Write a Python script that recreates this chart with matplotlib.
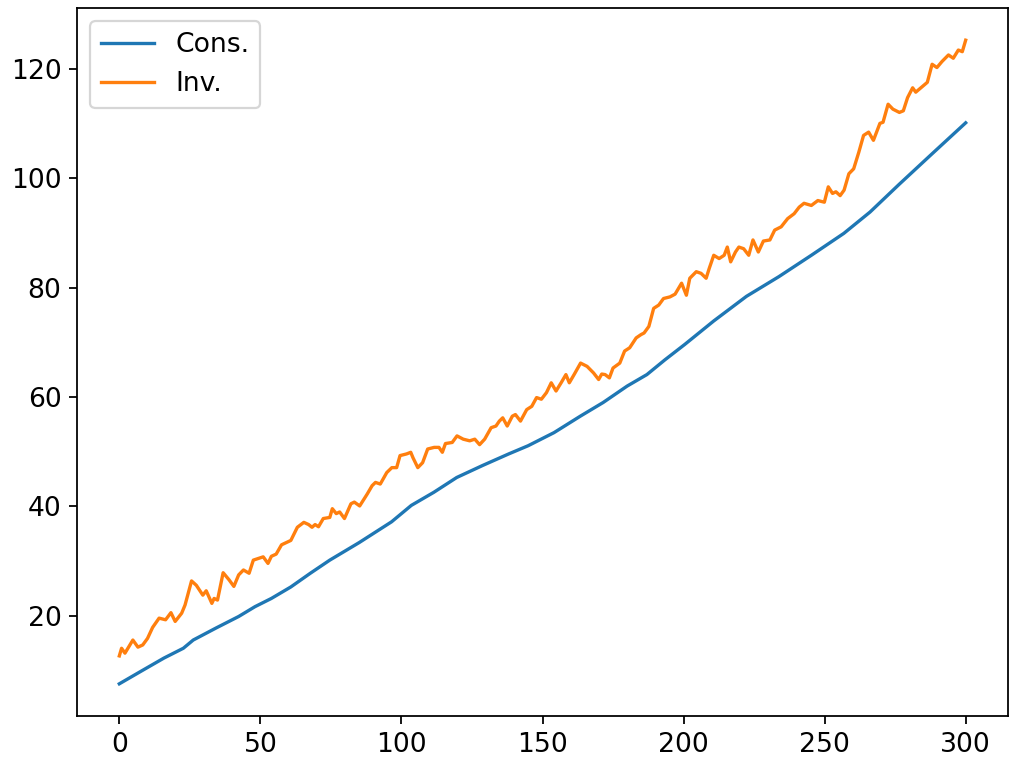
import matplotlib
matplotlib.use("Agg")
import matplotlib.pyplot as plt

# -----------------------------------------------------------------------------
# Data
# -----------------------------------------------------------------------------
cons_x = [0.0, 7.7, 15.8, 22.7, 26.2, 34.3, 42.3, 48.1, 53.9, 60.8,
          67.7, 74.6, 85.0, 96.5, 103.5, 111.5, 119.6, 128.8, 138.0, 144.9,
          154.1, 163.4, 171.5, 180.0, 187.0, 193.4, 200.4, 210.7, 222.3,
          233.8, 245.3, 256.8, 266.1, 276.5, 288.0, 300.0]
cons_y = [7.6, 9.9, 12.3, 14.1, 15.6, 17.8, 19.9, 21.7, 23.2, 25.3,
          27.8, 30.2, 33.4, 37.2, 40.2, 42.6, 45.3, 47.5, 49.6, 51.1,
          53.5, 56.5, 59.0, 62.0, 64.1, 66.8, 69.6, 73.9, 78.4,
          82.0, 85.9, 89.9, 93.8, 98.9, 104.4, 110.1]

inv_x = [0.0, 0.8, 2.0, 4.8, 6.6, 8.3, 10.0, 11.8, 14.1, 16.4, 18.3, 19.8,
         22.1, 23.3, 25.6, 27.3, 29.6, 30.8, 32.8, 33.6, 34.8, 36.8, 38.9,
         40.6, 42.3, 44.0, 46.0, 47.5, 49.3, 51.0, 52.7, 53.9, 55.6, 57.5,
         59.6, 60.8, 63.1, 65.4, 67.1, 68.3, 69.4, 70.6, 72.3, 74.6, 75.5,
         76.9, 78.1, 79.8, 82.1, 83.3, 85.2, 87.9, 89.6, 90.8, 92.5, 94.8,
         96.6, 98.3, 99.5, 101.8, 103.3, 104.1, 105.8, 107.5, 109.3, 111.6,
         113.3, 114.5, 115.6, 118.0, 119.7, 121.9, 124.2, 126.0, 127.7, 129.5,
         131.8, 133.5, 134.7, 135.9, 137.5, 139.3, 140.4, 142.2, 144.4, 146.2,
         147.9, 149.6, 151.4, 153.1, 154.8, 156.6, 158.3, 159.5, 161.2, 163.5,
         165.8, 168.1, 169.9, 171.0, 172.2, 173.7, 175.0, 177.4, 179.1, 180.9,
         183.2, 184.9, 186.0, 187.7, 189.4, 191.2, 192.9, 195.2, 197.0, 199.3,
         201.0, 202.2, 204.5, 206.2, 208.0, 209.1, 210.7, 212.6, 214.4, 215.5,
         216.7, 218.4, 219.6, 221.3, 223.1, 224.6, 226.5, 228.3, 230.6, 232.3,
         234.6, 236.9, 239.2, 241.0, 242.7, 245.3, 247.6, 249.9, 251.3, 252.8,
         254.0, 255.5, 256.9, 258.6, 260.3, 262.1, 263.8, 265.6, 267.3, 269.6,
         270.7, 272.5, 274.2, 276.5, 277.9, 279.4, 281.2, 282.3, 284.1, 286.4,
         288.1, 289.8, 291.6, 293.9, 295.6, 297.4, 298.8, 300.0]
inv_y = [12.7, 14.1, 13.2, 15.6, 14.3, 14.7, 15.9, 17.9, 19.6, 19.3, 20.6, 19.0,
         20.5, 22.0, 26.4, 25.6, 23.8, 24.6, 22.3, 23.2, 22.9, 27.9, 26.6,
         25.4, 27.5, 28.4, 27.8, 30.2, 30.5, 30.8, 29.6, 30.9, 31.3, 33.0,
         33.5, 33.8, 36.2, 37.1, 36.7, 36.2, 36.7, 36.3, 37.8, 38.0, 39.6,
         38.7, 39.0, 37.8, 40.5, 40.8, 40.1, 42.3, 43.8, 44.4, 44.1, 46.2,
         47.1, 47.1, 49.3, 49.6, 49.9, 48.9, 47.1, 48.0, 50.5, 50.8,
         50.8, 49.9, 51.5, 51.7, 52.9, 52.3, 52.0, 52.3, 51.3, 52.3,
         54.4, 54.7, 55.6, 56.2, 54.7, 56.5, 56.8, 55.6, 57.7, 58.3,
         59.9, 59.6, 60.8, 62.6, 61.1, 62.6, 64.1, 62.6, 64.1, 66.2,
         65.6, 64.4, 63.2, 64.2, 64.1, 63.5, 65.3, 66.2, 68.4, 69.0,
         70.8, 71.4, 71.7, 72.9, 76.2, 76.8, 78.0, 78.3, 78.8, 80.8,
         78.6, 81.7, 82.9, 82.6, 81.7, 83.5, 85.9, 85.3, 85.9, 87.4,
         84.7, 86.5, 87.4, 87.1, 85.9, 88.7, 86.5, 88.5, 88.7, 90.5,
         91.1, 92.6, 93.5, 94.7, 95.4, 95.0, 95.9, 95.6, 98.4, 97.2,
         97.5, 96.8, 97.8, 100.8, 101.7, 104.7, 107.8, 108.4, 106.9, 110.0,
         110.2, 113.5, 112.6, 112.0, 112.3, 114.7, 116.5, 115.7, 116.5, 117.5,
         120.8, 120.2, 121.3, 122.5, 121.9, 123.4, 123.1, 125.2]

# -----------------------------------------------------------------------------
# Plot
# -----------------------------------------------------------------------------
DPI = 160
plt.rcParams["font.size"] = 12

fig = plt.figure(figsize=(1018 / DPI, 761 / DPI), dpi=DPI)
ax = fig.add_axes([77 / 1018, 1 - 716 / 761, (1008 - 77) / 1018, (716 - 8) / 761])

ax.plot(cons_x, cons_y, color="#1f77b4", label="Cons.")
ax.plot(inv_x, inv_y, color="#ff7f0e", label="Inv.")
ax.legend(loc="upper left")

fig.savefig("out.png", dpi=DPI)
